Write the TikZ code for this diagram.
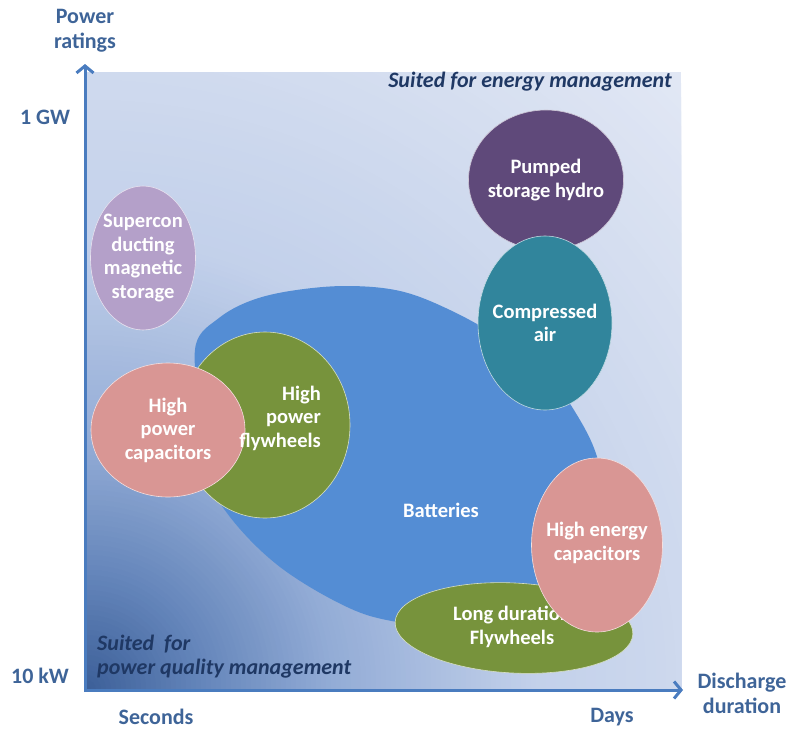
\documentclass[tikz,border=0pt]{standalone}
\usepackage{fontspec}
\setmainfont{Carlito}
\usetikzlibrary{shapes.geometric,arrows.meta}

% palette
\definecolor{bgA}{HTML}{E1E7F4}
\definecolor{bgB}{HTML}{C2D0EA}
\definecolor{bgC}{HTML}{93ACD6}
\definecolor{bgM}{HTML}{6586BB}
\definecolor{bgD}{HTML}{3B5E97}
\definecolor{axisblue}{HTML}{4A7CBF}
\definecolor{labelblue}{HTML}{3E6498}
\definecolor{navy}{HTML}{1F3864}
\definecolor{smes}{HTML}{B4A0C9}
\definecolor{battblue}{HTML}{548DD4}
\definecolor{olive}{HTML}{77933C}
\definecolor{rose}{HTML}{D99694}
\definecolor{plum}{HTML}{5F497A}
\definecolor{teal}{HTML}{31859C}

\tikzset{
  blob/.style={ellipse, inner sep=0pt, draw=white!70!#1, line width=0.6pt, fill=#1},
  techlabel/.style={text=white, font=\bfseries\fontsize{20.5}{23.5}\selectfont, align=center, inner sep=0pt},
  axislabel/.style={text=labelblue, font=\bfseries\fontsize{22}{25}\selectfont, align=center, inner sep=0pt},
  zonelabel/.style={text=navy, font=\bfseries\itshape\fontsize{22}{24}\selectfont, inner sep=0pt},
  axisline/.style={draw=axisblue, line width=3pt, -{Straight Barb[length=7pt,width=17pt]}}
}

\begin{document}
\begin{tikzpicture}[x=1pt,y=-1pt]
\useasboundingbox (0,0) rectangle (787,731);

% shaded chart area, darkest in the lower left corner
\begin{scope}
  \clip (86,72) rectangle (681,690);
  \fill[bgA] (86,72) rectangle (681,690);
  \foreach \i [evaluate=\i as \r using 850-10*\i, evaluate=\i as \p using 2.5*\i] in {0,...,40}
    \fill[bgB!\p!bgA] (86,690) circle[radius=\r pt];
  \foreach \i [evaluate=\i as \r using 450-5*\i, evaluate=\i as \p using 2.5*\i] in {0,...,40}
    \fill[bgC!\p!bgB] (86,690) circle[radius=\r pt];
  \foreach \i [evaluate=\i as \r using 250-5*\i, evaluate=\i as \p using 3.8462*\i] in {0,...,26}
    \fill[bgM!\p!bgC] (86,690) circle[radius=\r pt];
  \foreach \i [evaluate=\i as \r using 120-5*\i, evaluate=\i as \p using 4.1667*\i] in {0,...,23}
    \fill[bgD!\p!bgM] (86,690) circle[radius=\r pt];
\end{scope}

% zone captions
\node[zonelabel, anchor=east] (energyzone) at (672,82) {Suited for energy management};
\node[zonelabel, anchor=west, align=left] (pqzone) at (97,657) {Suited\ \ for\\power quality management};

% superconducting magnetic storage
\node[blob=smes, minimum width=105pt, minimum height=144pt] (smes) at (143,258) {};
\node[techlabel] at (smes.center) {Supercon\\ducting\\magnetic\\storage};

% batteries
\path[fill=battblue] plot[smooth cycle, tension=0.6] coordinates {
  (196,344) (219,318) (250,301) (290,291) (345,286) (400,291) (450,310)
  (500,338) (545,372) (577,415) (598,460) (605,515) (585,575) (530,615)
  (460,628) (397,622) (347,607) (280,567) (230,517) (205,470) (198,400)};
\node[techlabel] (batt) at (441,510) {Batteries};

% high power flywheels and capacitors
\node[blob=olive, minimum width=170pt, minimum height=186pt] (hpfly) at (265,425) {};
\node[blob=rose, minimum width=154pt, minimum height=134pt] (hpcap) at (168,430) {};
\node[techlabel] at (hpcap.center) {High\\power\\capacitors};
\node[techlabel, align=right, anchor=east] at (321,418) {High\\power\\flywheels};

% pumped hydro and compressed air
\node[blob=plum, minimum width=155pt, minimum height=140pt] (phs) at (546,180) {};
\node[techlabel] at (phs.center) {Pumped\\storage hydro};
\node[blob=teal, minimum width=134pt, minimum height=174pt] (caes) at (545,323) {};
\node[techlabel] at (caes.center) {Compressed\\air};

% long duration flywheels and high energy capacitors
\node[blob=olive, minimum width=238pt, minimum height=90pt, rotate=-3] (ldfly) at (514,628) {};
\node[techlabel] at (512,627) {Long duration\\Flywheels};
\node[blob=rose, minimum width=131pt, minimum height=174pt] (hecap) at (597,545) {};
\node[techlabel] at (597,543) {High energy\\capacitors};

% axes
\coordinate (origin) at (85,692);
\coordinate (ytip) at (85,64);
\coordinate (xorigin) at (84,690);
\coordinate (xtip) at (683,690);
\draw[axisline] (origin) -- (ytip);
\draw[axisline] (xorigin) -- (xtip);

% axis captions
\node[axislabel] (ylab) at (85,31) {Power\\ratings};
\node[axislabel] (gw) at (45,117) {1 GW};
\node[axislabel] (kw) at (40,676) {10 kW};
\node[axislabel] (sec) at (156,717) {Seconds};
\node[axislabel] (days) at (612,717) {Days};
\node[axislabel] (xlab) at (742,693) {Discharge\\duration};
\end{tikzpicture}
\end{document}
